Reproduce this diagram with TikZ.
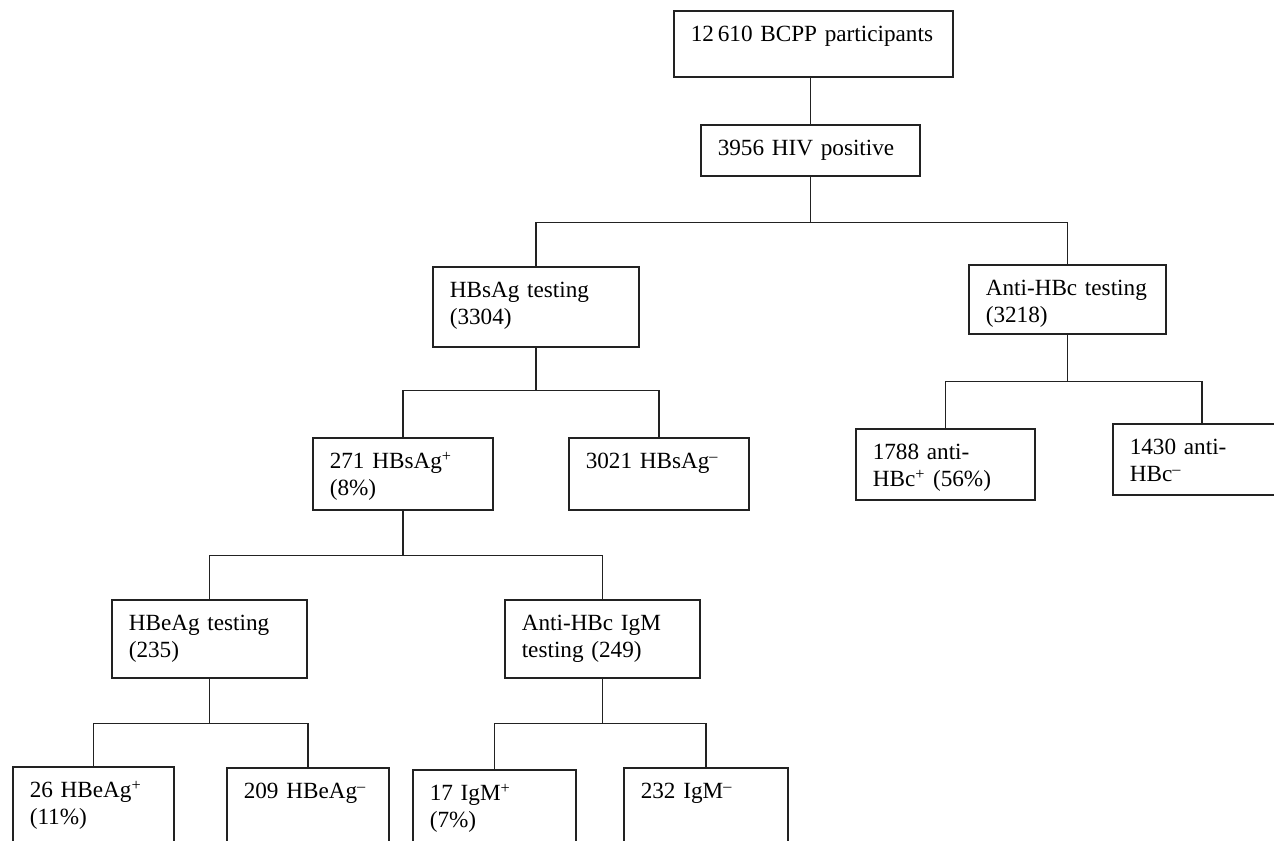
\documentclass[tikz,border=0pt]{standalone}
\usepackage{fontspec}
\setmainfont{Liberation Serif}
\usetikzlibrary{positioning, calc}
\definecolor{linecolor}{HTML}{222222}

\begin{document}
\begin{tikzpicture}[
    x=0.02cm, y=-0.02cm,
    every node/.style={font=\fontsize{13.2}{15.4}\selectfont},
    box/.style 2 args={draw=linecolor, line width=0.9pt, anchor=north west,
        align=left, inner xsep=0.34cm, inner ysep=0pt,
        text width=#1*0.02cm-0.68cm, text height=0.62cm,
        text depth=#2*0.02cm-0.62cm},
    link/.style={draw=linecolor, line width=0.9pt},
]
\clip (0,0) rectangle (1274,841);

% top of the flow
\node[box={279}{66}] (bcpp) at (673,10) {12\,610 BCPP participants};
\node[box={219}{51}] (hiv) at (700,124) {3956 HIV positive};

% two testing branches
\node[box={206}{80}] (hbs) at (432,266) {HBsAg testing\\(3304)};
\node[box={197}{69}] (ahb) at (968,264) {Anti-HBc testing\\(3218)};

\node[box={180}{72}] (hbspos) at (312,437) {271 HBsAg\textsuperscript{+}\\(8\%)};
\node[box={180}{72}] (hbsneg) at (568,437) {3021 HBsAg\textsuperscript{--}};
\node[box={179}{71}] (ahbpos) at (855,428) {1788 anti-\\HBc\textsuperscript{+} (56\%)};
\node[box={178}{71}] (ahbneg) at (1112,423) {1430 anti-\\HBc\textsuperscript{--}};

% follow-up of the HBsAg positives
\node[box={195}{78}] (hbe) at (111,599) {HBeAg testing\\(235)};
\node[box={195}{78}] (igm) at (504,599) {Anti-HBc IgM\\testing (249)};

\node[box={161}{100}] (hbepos) at (12,766) {26 HBeAg\textsuperscript{+}\\(11\%)};
\node[box={162}{100}] (hbeneg) at (226,767) {209 HBeAg\textsuperscript{--}};
\node[box={163}{100}] (igmpos) at (412,769) {17 IgM\textsuperscript{+}\\(7\%)};
\node[box={164}{100}] (igmneg) at (623,767) {232 IgM\textsuperscript{--}};

% connectors
\draw[link] (hiv.north |- bcpp.south) -- (hiv.north);
\draw[link] (hiv.south) -- ++(0,46) coordinate (j1);
\draw[link] (hbs.north) |- (j1) -| (ahb.north);

\draw[link] (hbs.south) -- ++(0,43) coordinate (j2);
\draw[link] (hbspos.north) |- (j2) -| (hbsneg.north);

\draw[link] (ahb.south) -- ++(0,47) coordinate (j3);
\draw[link] (ahbpos.north) |- (j3) -| (ahbneg.north);

\draw[link] (hbspos.south) -- ++(0,45) coordinate (j4);
\draw[link] (hbe.north) |- (j4) -| (igm.north);

\draw[link] (hbe.south) -- ++(0,45) coordinate (j5);
\draw[link] (hbepos.north) |- (j5) -| (hbeneg.north);

\draw[link] (igm.south) -- ++(0,45) coordinate (j6);
\draw[link] (igmpos.north) |- (j6) -| (igmneg.north);
\end{tikzpicture}
\end{document}
